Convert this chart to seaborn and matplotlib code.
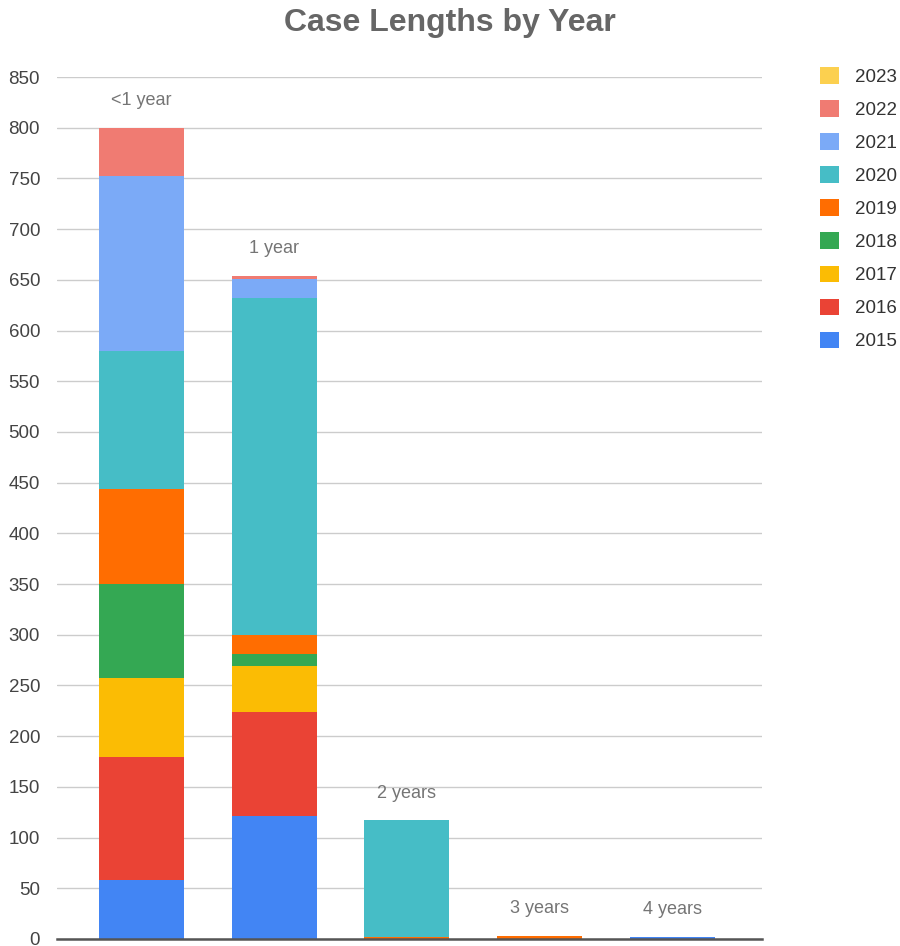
import numpy as np
import pandas as pd
import matplotlib
matplotlib.use("Agg")
import matplotlib.pyplot as plt
from matplotlib.patches import Patch
import seaborn as sns

# Case counts per length bucket, split by the year the case was filed
lengths = ["<1 year", "1 year", "2 years", "3 years", "4 years"]
years = ["2015", "2016", "2017", "2018", "2019", "2020", "2021", "2022", "2023"]
y2015 = [58, 121, 0, 0, 2]
y2016 = [121, 103, 0, 0, 0]
y2017 = [78, 45, 0, 0, 0]
y2018 = [93, 12, 0, 0, 0]
y2019 = [94, 19, 2, 3, 0]
y2020 = [136, 332, 115, 0, 0]
y2021 = [172, 19, 0, 0, 0]
y2022 = [48, 3, 0, 0, 0]
y2023 = [0, 0, 0, 0, 0]
series = [y2015, y2016, y2017, y2018, y2019, y2020, y2021, y2022, y2023]
colors = ["#4285F4", "#EA4335", "#FBBC04", "#34A853", "#FF6D01",
          "#46BDC6", "#7BAAF7", "#F07B72", "#FCD04F"]
y_ticks = list(range(0, 851, 50))

sns.set_theme(style="white")
plt.rcParams["font.family"] = ["Liberation Sans", "DejaVu Sans"]

df = pd.DataFrame(series, index=years, columns=lengths)
cum = df.cumsum(axis=0)

fig = plt.figure(figsize=(9, 9.46), dpi=100)
ax = fig.add_axes([0.063, 0.0074, 0.784, 0.9112])

# Stacked bars: draw running totals from the newest year down so each layer sits on top
for yr, col in reversed(list(zip(years, colors))):
    layer = pd.DataFrame({"length": lengths, "total": cum.loc[yr].values})
    sns.barplot(data=layer, x="length", y="total", order=lengths, color=col,
                width=0.64, saturation=1, linewidth=0, ax=ax)

ax.set_ylim(0, 850)
ax.set_xlim(-0.64, 4.68)
ax.set_yticks(y_ticks)
ax.set_yticklabels([str(t) for t in y_ticks], fontsize=13.5, color="#444444")
ax.set_xticks([])
ax.set_xlabel("")
ax.set_ylabel("")
ax.grid(axis="y", color="#cccccc", linewidth=1)
ax.set_axisbelow(True)
ax.tick_params(axis="y", length=0, pad=12)
for side in ["top", "right", "left"]:
    ax.spines[side].set_visible(False)
ax.spines["bottom"].set_color("#555555")
ax.spines["bottom"].set_linewidth(1.8)
ax.spines["bottom"].set_zorder(5)

# Bucket names above each stack
totals = cum.loc[years[-1]].values
for i, (name, tot) in enumerate(zip(lengths, totals)):
    ax.annotate(name, (i, tot), xytext=(0, 19.5), textcoords="offset points",
                ha="center", va="center", fontsize=13, color="#757575")

fig.text(0.5, 0.976, "Case Lengths by Year", ha="center", va="center",
         fontsize=23, fontweight="bold", color="#666666")

handles = [Patch(facecolor=c, edgecolor="none", label=y)
           for y, c in zip(reversed(years), reversed(colors))]
fig.legend(handles=handles, loc="upper left", bbox_to_anchor=(0.911, 0.929),
           frameon=False, fontsize=13.5, handlelength=1.0, handleheight=1.0,
           handletextpad=0.85, labelspacing=0.76, labelcolor="#333333",
           borderaxespad=0, borderpad=0)

fig.savefig("out.png", dpi=100)
